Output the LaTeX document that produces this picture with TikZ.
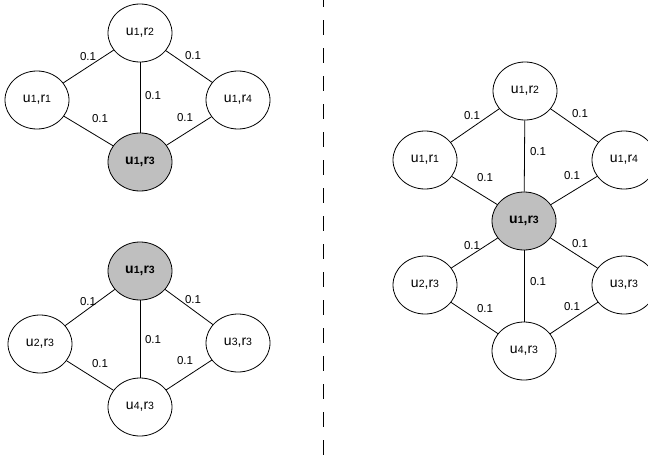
\documentclass[tikz,border=0pt]{standalone}
\usepackage{fontspec}
\setmainfont{Liberation Sans}
\usetikzlibrary{shapes.geometric}
% node text: letters with smaller digits on the baseline
\newcommand{\dg}[1]{{\fontsize{10.5}{10.5}\selectfont #1}}
\newcommand{\ur}[2]{u\dg{#1},r\dg{#2}}
\newcommand{\urb}[2]{\bfseries u{\fontsize{10.5}{10.5}\selectfont\bfseries #1},r{\fontsize{10.5}{10.5}\selectfont\bfseries #2}}
\tikzset{
  state/.style={ellipse, draw, line width=0.8pt, minimum width=64pt, minimum height=58pt,
    inner sep=0pt, font=\fontsize{14}{14}\selectfont},
  focus/.style={state, fill=black!25},
  link/.style={line width=0.8pt},
  wt/.style={font=\fontsize{11.5}{11.5}\selectfont, inner sep=0pt}
}
\begin{document}
\begin{tikzpicture}[x=1pt,y=-1pt]
\useasboundingbox (0,0) rectangle (648,455);

% ---- upper left: neighbourhood over items ----
\node[state] (a2) at (140,33) {\ur{1}{2}};
\node[state] (a1) at (37,100) {\ur{1}{1}};
\node[state] (a4) at (238,100) {\ur{1}{4}};
\node[focus] (a3) at (140,162) {\urb{1}{3}};
\draw[link] (a1) -- (a2);
\draw[link] (a2) -- (a4);
\draw[link] (a2) -- (a3);
\draw[link] (a1) -- (a3);
\draw[link] (a4) -- (a3);
\node[wt] (wa12) at (88,57) {0.1};
\node[wt] (wa24) at (193,56) {0.1};
\node[wt] (wa23) at (153,96) {0.1};
\node[wt] (wa13) at (100,119) {0.1};
\node[wt] (wa43) at (185,118) {0.1};

% ---- lower left: neighbourhood over users ----
\node[focus] (b1) at (140,271) {\urb{1}{3}};
\node[state] (b2) at (40,344) {\ur{2}{3}};
\node[state] (b3) at (238,343) {\ur{3}{3}};
\node[state] (b4) at (140,407) {\ur{4}{3}};
\draw[link] (b1) -- (b2);
\draw[link] (b1) -- (b3);
\draw[link] (b1) -- (b4);
\draw[link] (b2) -- (b4);
\draw[link] (b3) -- (b4);
\node[wt] (wb12) at (88,302) {0.1};
\node[wt] (wb13) at (193,300) {0.1};
\node[wt] (wb14) at (153,340) {0.1};
\node[wt] (wb24) at (100,364) {0.1};
\node[wt] (wb34) at (185,361) {0.1};

% ---- separator ----
\coordinate (s1) at (323,0);
\coordinate (s2) at (323,455);
\draw[line width=0.9pt, dash pattern=on 15pt off 13pt, dash phase=8pt] (s1) -- (s2);

% ---- right: merged graph ----
\node[state] (c2) at (525,91) {\ur{1}{2}};
\node[state] (c1) at (425,160) {\ur{1}{1}};
\node[state] (c4) at (624,160) {\ur{1}{4}};
\node[focus] (c3) at (524,221) {\urb{1}{3}};
\node[state] (d2) at (425,285) {\ur{2}{3}};
\node[state] (d3) at (624,285) {\ur{3}{3}};
\node[state] (d4) at (524,351) {\ur{4}{3}};
\draw[link] (c1) -- (c2);
\draw[link] (c2) -- (c4);
\draw[link] (c2) -- (c3);
\draw[link] (c1) -- (c3);
\draw[link] (c4) -- (c3);
\draw[link] (c3) -- (d2);
\draw[link] (c3) -- (d3);
\draw[link] (c3) -- (d4);
\draw[link] (d2) -- (d4);
\draw[link] (d3) -- (d4);
\node[wt] (wc12) at (472,116) {0.1};
\node[wt] (wc24) at (580,114) {0.1};
\node[wt] (wc23) at (538,152) {0.1};
\node[wt] (wc13) at (485,178) {0.1};
\node[wt] (wc43) at (572,176) {0.1};
\node[wt] (wd12) at (472,246) {0.1};
\node[wt] (wd13) at (580,244) {0.1};
\node[wt] (wd14) at (538,282) {0.1};
\node[wt] (wd24) at (485,309) {0.1};
\node[wt] (wd34) at (572,307) {0.1};
\end{tikzpicture}
\end{document}
